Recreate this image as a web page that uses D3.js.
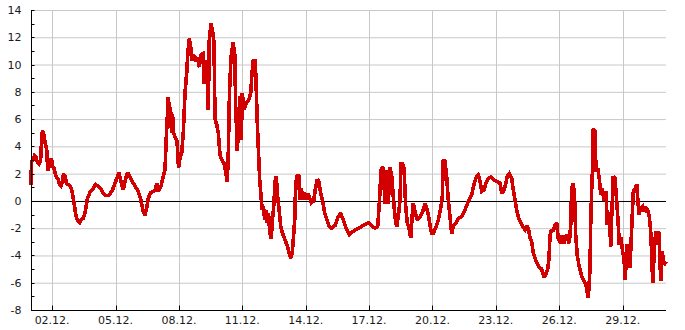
<!DOCTYPE html>
<html>
<head>
<meta charset="utf-8">
<script src="https://cdn.jsdelivr.net/npm/d3@7"></script>
<style>
  html, body { margin: 0; padding: 0; background: #fff; }
  svg { display: block; }
  text { font-family: "DejaVu Sans", sans-serif; font-size: 11px; fill: #1a1a1a; }
</style>
</head>
<body>
<svg id="chart" width="685" height="330"></svg>
<script>
// Start of the series (day offsets are counted from this moment)
const startDate = "2023-12-01T00:00:00";

// Time in days after the start
const days = [
  0, 0.024, 0.095, 0.166, 0.237, 0.308, 0.379, 0.450, 0.497, 0.544,
  0.615, 0.663, 0.710, 0.757, 0.781, 0.828, 0.876, 0.923, 0.970, 1.017,
  1.088, 1.183, 1.278, 1.349, 1.420, 1.491, 1.538, 1.609, 1.680, 1.751,
  1.846, 1.917, 1.988, 2.059, 2.130, 2.224, 2.295, 2.366, 2.461, 2.532,
  2.603, 2.650, 2.698, 2.816, 2.934, 3.053, 3.171, 3.289, 3.407, 3.526,
  3.644, 3.762, 3.881, 3.975, 4.070, 4.165, 4.259, 4.368, 4.472, 4.576,
  4.662, 4.766, 4.922, 5.078, 5.192, 5.315, 5.395, 5.476, 5.551, 5.665,
  5.788, 5.892, 5.949, 6.025, 6.138, 6.233, 6.342, 6.413, 6.498, 6.555,
  6.602, 6.649, 6.697, 6.744, 6.815, 6.910, 6.947, 6.981, 7.052, 7.132,
  7.208, 7.288, 7.369, 7.430, 7.492, 7.558, 7.634, 7.728, 7.809, 7.903,
  7.965, 8.031, 8.140, 8.202, 8.258, 8.306, 8.353, 8.391, 8.438, 8.519,
  8.599, 8.661, 8.708, 8.789, 8.864, 8.945, 9.025, 9.134, 9.229, 9.290,
  9.337, 9.394, 9.465, 9.560, 9.640, 9.688, 9.763, 9.834, 9.905, 9.953,
  10.000, 10.080, 10.189, 10.303, 10.397, 10.459, 10.521, 10.615, 10.663, 10.710,
  10.776, 10.824, 10.899, 10.947, 11.003, 11.060, 11.122, 11.183, 11.240, 11.297,
  11.372, 11.420, 11.477, 11.562, 11.609, 11.656, 11.723, 11.817, 11.893, 12.006,
  12.130, 12.210, 12.291, 12.366, 12.414, 12.480, 12.527, 12.589, 12.669, 12.717,
  12.792, 12.873, 12.953, 13.029, 13.109, 13.190, 13.265, 13.379, 13.455, 13.549,
  13.616, 13.710, 13.819, 13.900, 14.008, 14.103, 14.231, 14.387, 14.543, 14.657,
  14.780, 14.908, 15.064, 15.225, 15.381, 15.570, 15.727, 15.963, 16.124, 16.280,
  16.408, 16.484, 16.564, 16.645, 16.706, 16.753, 16.834, 16.910, 16.990, 17.071,
  17.146, 17.227, 17.307, 17.383, 17.463, 17.511, 17.591, 17.653, 17.733, 17.809,
  17.903, 17.970, 18.045, 18.093, 18.173, 18.282, 18.410, 18.538, 18.646, 18.727,
  18.803, 18.883, 18.963, 19.039, 19.167, 19.276, 19.389, 19.465, 19.512, 19.593,
  19.673, 19.749, 19.829, 19.910, 19.986, 20.113, 20.222, 20.383, 20.539, 20.696,
  20.856, 20.979, 21.093, 21.169, 21.249, 21.330, 21.439, 21.533, 21.642, 21.756,
  21.879, 22.040, 22.196, 22.276, 22.352, 22.433, 22.541, 22.636, 22.750, 22.825,
  22.906, 22.986, 23.081, 23.176, 23.270, 23.379, 23.460, 23.535, 23.616, 23.696,
  23.772, 23.852, 23.933, 24.042, 24.169, 24.278, 24.373, 24.453, 24.515, 24.562,
  24.642, 24.718, 24.799, 24.879, 24.955, 25.068, 25.144, 25.224, 25.319, 25.400,
  25.475, 25.542, 25.589, 25.665, 25.731, 25.778, 25.854, 25.949, 26.062, 26.171,
  26.266, 26.375, 26.455, 26.488, 26.536, 26.583, 26.611, 26.692, 26.739, 26.819,
  26.895, 26.961, 27.037, 27.118, 27.212, 27.274, 27.369, 27.435, 27.496, 27.558,
  27.639, 27.719, 27.795, 27.842, 27.922, 28.003, 28.064, 28.126, 28.192, 28.268,
  28.348, 28.396, 28.457, 28.505, 28.585, 28.666, 28.713, 28.774, 28.855, 28.950,
  29.025, 29.106, 29.186, 29.262, 29.328, 29.375, 29.423, 29.498, 29.564, 29.640,
  29.721, 29.801, 29.877, 29.957, 30.052
];

// Temperature values (°C)
const temps = [
  1.2, 2.9, 3.0, 3.3, 3.2, 2.8, 2.7, 2.9, 4.3, 5.2,
  4.8, 4.3, 4.0, 3.6, 2.4, 2.2, 3.1, 2.4, 3.1, 2.5,
  2.4, 1.8, 1.6, 1.2, 1.1, 1.4, 2.0, 1.8, 1.3, 1.2,
  1.1, 0.9, 0.3, -0.4, -1.1, -1.5, -1.6, -1.4, -1.3, -1.0,
  -0.5, 0.0, 0.3, 0.7, 0.9, 1.2, 1.1, 0.9, 0.6, 0.4,
  0.4, 0.55, 0.9, 1.3, 1.7, 2.1, 1.4, 0.8, 1.6, 2.1,
  1.8, 1.5, 1.1, 0.7, 0.1, -0.8, -1.05, -0.5, 0.2, 0.6,
  0.7, 0.8, 1.3, 0.7, 1.0, 1.6, 2.3, 5.0, 7.6, 6.5,
  6.9, 5.0, 6.4, 5.0, 4.7, 4.4, 3.5, 2.4, 3.2, 3.5,
  5.0, 7.9, 9.4, 11.0, 11.9, 11.3, 10.3, 10.7, 10.2, 10.5,
  9.8, 10.7, 10.8, 8.6, 9.5, 10.3, 8.5, 6.7, 11.8, 13.0,
  12.4, 11.6, 6.0, 5.6, 5.0, 3.4, 3.0, 2.8, 2.0, 1.4,
  3.5, 8.0, 10.5, 11.6, 10.8, 6.9, 3.7, 5.7, 7.7, 4.5,
  7.9, 6.7, 7.15, 7.4, 7.9, 9.4, 10.3, 10.3, 8.1, 5.7,
  3.25, 1.55, 0.1, -0.65, -0.4, -1.4, -0.65, -1.6, -0.9, -2.3,
  -2.8, -1.4, -0.65, 1.55, 1.8, 0.6, -0.4, -1.85, -2.3, -2.8,
  -3.3, -3.8, -4.2, -3.8, -2.8, -1.4, 1.3, 1.8, 1.9, 0.1,
  0.95, 0.1, 0.6, 0.1, 0.5, 0.2, -0.15, 0.0, 0.85, 1.55,
  1.45, 0.6, -0.15, -0.9, -1.4, -1.85, -2.0, -1.8, -1.15, -0.9,
  -1.4, -2.0, -2.5, -2.25, -2.1, -1.95, -1.8, -1.6, -1.85, -2.0,
  -1.85, -0.2, 2.25, 2.5, 1.3, -0.2, 2.25, -0.2, 2.5, 1.8,
  0.3, -1.15, -1.9, -1.15, 0.05, 2.7, 2.7, 2.4, -0.4, -1.6,
  -2.1, -2.7, -1.0, -0.2, -0.8, -1.4, -1.15, -0.8, -0.2, -0.55,
  -1.0, -1.8, -2.4, -2.4, -1.9, -1.4, -0.55, 0.3, 3.0, 2.9,
  1.8, 0.05, -1.15, -2.4, -1.8, -1.6, -1.3, -1.15, -0.65, -0.05,
  0.45, 1.3, 1.8, 1.9, 1.45, 0.7, 0.8, 1.3, 1.65, 1.75,
  1.55, 1.45, 1.3, 0.55, 0.7, 1.05, 1.8, 2.0, 1.65, 0.8,
  0.05, -0.65, -1.3, -1.6, -1.9, -2.1, -1.8, -2.0, -2.75, -3.0,
  -3.8, -4.2, -4.5, -4.85, -5.0, -5.6, -5.35, -5.0, -4.25, -2.5,
  -2.1, -2.25, -1.75, -1.6, -2.75, -3.1, -2.5, -3.1, -2.5, -2.85,
  -3.1, -1.75, 0.9, 1.3, 0.0, -2.5, -4.0, -4.85, -5.5, -5.85,
  -6.2, -7.1, -5.0, -1.75, 0.9, 2.6, 5.3, 5.1, 2.15, 2.4,
  1.65, 0.45, 0.9, 0.0, 0.7, -1.75, -0.8, -3.35, -0.55, 1.8,
  1.65, 0.0, -1.8, -3.2, -2.7, -3.75, -4.25, -5.8, -3.2, -3.5,
  -4.9, -3.2, -1.0, 0.7, 0.9, 1.2, 0.2, -1.0, -0.55, -0.4,
  -0.8, -0.55, -0.65, -1.15, -2.25, -3.95, -6.0, -3.7, -2.25, -3.2,
  -2.25, -5.9, -3.7, -4.7, -4.45
];

// Axis ticks
const yTicks = [-8, -6, -4, -2, 0, 2, 4, 6, 8, 10, 12, 14];
const yMinorTicks = [-7, -5, -3, -1, 1, 3, 5, 7, 9, 11, 13];
const xTickLabels = ["02.12.", "05.12.", "08.12.", "11.12.", "14.12.", "17.12.", "20.12.", "23.12.", "26.12.", "29.12."];

const W = 685, H = 330;
const margin = { top: 10, right: 19, bottom: 20, left: 31 };
const svg = d3.select("#chart");

const t0 = new Date(startDate).getTime();
const DAY = 86400000;
const data = days.map((d, i) => ({ t: new Date(t0 + d * DAY), v: temps[i] }));

const x = d3.scaleTime()
  .domain(d3.extent(data, d => d.t))
  .range([margin.left, W - margin.right]);
const y = d3.scaleLinear()
  .domain([d3.min(yTicks), d3.max(yTicks)])
  .range([H - margin.bottom, margin.top]);

const parseLabel = s => {
  const [dd, mm] = s.split(".");
  return new Date(2023, +mm - 1, +dd);
};
const xTickDates = xTickLabels.map(parseLabel);

// Grid
const grid = svg.append("g");
grid.selectAll("line.gy").data(yTicks).join("line")
  .attr("x1", margin.left).attr("x2", W - margin.right)
  .attr("y1", d => y(d) + 0.5).attr("y2", d => y(d) + 0.5)
  .attr("stroke", "#c8c8c8").attr("stroke-width", 1);
grid.selectAll("line.gx").data(xTickDates).join("line")
  .attr("x1", d => Math.round(x(d)) + 0.5).attr("x2", d => Math.round(x(d)) + 0.5)
  .attr("y1", margin.top).attr("y2", H - margin.bottom)
  .attr("stroke", "#c8c8c8").attr("stroke-width", 1);

// Zero line
svg.append("line")
  .attr("x1", margin.left).attr("x2", W - margin.right)
  .attr("y1", Math.round(y(0)) + 0.5).attr("y2", Math.round(y(0)) + 0.5)
  .attr("stroke", "#000").attr("stroke-width", 1);

// Data line
const line = d3.line().x(d => x(d.t)).y(d => y(d.v));
svg.append("path")
  .datum(data)
  .attr("d", line)
  .attr("fill", "none")
  .attr("stroke", "#d20000")
  .attr("stroke-width", 3.6)
  .attr("stroke-linejoin", "miter")
  .attr("stroke-miterlimit", 2)
  .attr("shape-rendering", "crispEdges");

// Y axis (ticks inward)
const yAxis = svg.append("g").attr("transform", `translate(${margin.left + 0.5},0)`);
yAxis.append("line").attr("x1", 0).attr("x2", 0)
  .attr("y1", margin.top).attr("y2", H - margin.bottom + 0.5)
  .attr("stroke", "#000");
yAxis.selectAll("line.t").data(yTicks.concat(yMinorTicks)).join("line")
  .attr("x1", 0).attr("x2", 3)
  .attr("y1", d => Math.round(y(d)) + 0.5).attr("y2", d => Math.round(y(d)) + 0.5)
  .attr("stroke", "#000");
yAxis.selectAll("text").data(yTicks).join("text")
  .attr("x", -10).attr("y", d => y(d))
  .attr("dy", "0.36em")
  .attr("text-anchor", "end")
  .text(d => d);

// X axis (ticks inward)
const xAxis = svg.append("g").attr("transform", `translate(0,${H - margin.bottom + 0.5})`);
xAxis.append("line").attr("x1", margin.left).attr("x2", W - margin.right)
  .attr("y1", 0).attr("y2", 0).attr("stroke", "#000");
xAxis.selectAll("line.t").data(xTickDates).join("line")
  .attr("x1", d => Math.round(x(d)) + 0.5).attr("x2", d => Math.round(x(d)) + 0.5)
  .attr("y1", 0).attr("y2", -5)
  .attr("stroke", "#000");
xAxis.selectAll("text").data(xTickDates).join("text")
  .attr("x", d => x(d)).attr("y", 13)
  .attr("text-anchor", "middle")
  .text((d, i) => xTickLabels[i]);
</script>
</body>
</html>
